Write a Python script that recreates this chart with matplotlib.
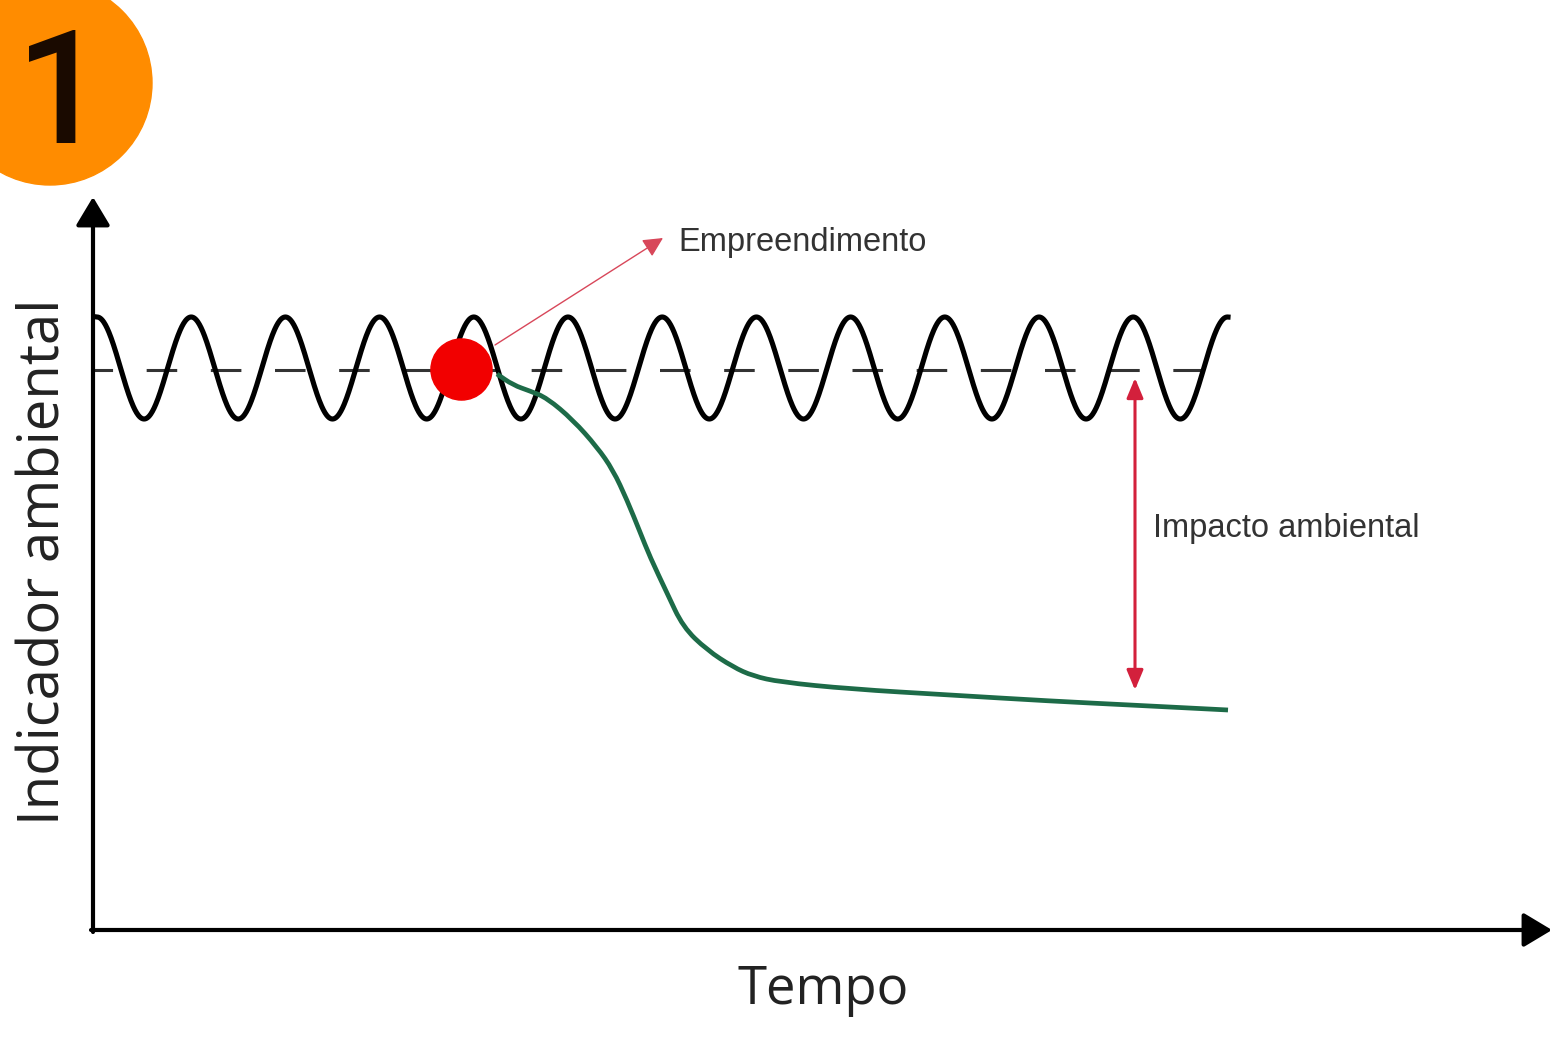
import numpy as np
import matplotlib.pyplot as plt
from matplotlib.patches import Circle, PathPatch
from matplotlib.path import Path

plt.rcParams['font.family'] = ['Open Sans', 'DejaVu Sans']

# eixos: tempo (t) e indicador (v), origem no canto dos eixos
x_axis_end = 1459
y_axis_end = 733

# oscilação natural do indicador (linha de base)
baseline = 560
wave_center = 562
wave_amplitude = 51
wave_start = 4
wave_end = 1135
wave_period = 94.2

# trajetória após o empreendimento
impact_t = [404, 420, 437, 454, 480, 504, 520, 534, 547, 557, 574, 590, 614,
            640, 660, 687, 757, 857, 957, 1037, 1135]
impact_v = [556, 545, 539, 532, 510, 483, 460, 430, 398, 373, 337, 303, 280,
            263, 254, 248, 241, 235, 229, 225, 220]

# empreendimento
project_t, project_v = 368, 561
project_label = 'Empreendimento'
project_label_pos = (585, 687)
project_arrow = ((402, 585), (570, 692))

# impacto ambiental
impact_x = 1042
impact_top, impact_bottom = 552, 240
impact_label = 'Impacto ambiental'
impact_label_pos = (1060, 402)

xlabel = 'Tempo'
ylabel = 'Indicador ambiental'
badge = '1'

fig = plt.figure(figsize=(15.54, 10.45), dpi=100)
ax = fig.add_axes([0, 0, 1, 1])
ax.set_xlim(-93, 1461)
ax.set_ylim(-115, 930)
ax.set_aspect('equal')
ax.axis('off')

# eixos com setas
arrow_kw = dict(arrowstyle='-|>,head_length=0.5,head_width=0.3', lw=3,
                color='black', shrinkA=0, shrinkB=0, mutation_scale=35)
ax.annotate('', xy=(x_axis_end, 0), xytext=(-2, 0), arrowprops=arrow_kw)
ax.annotate('', xy=(0, y_axis_end), xytext=(0, -2), arrowprops=arrow_kw)

# linha de base tracejada
ax.plot([0, wave_end], [baseline, baseline], color='#333333', lw=2.2,
        linestyle=(3.6, (10, 11)), zorder=2)

# oscilação
t = np.linspace(wave_start, wave_end, 2000)
v = wave_center + wave_amplitude * np.cos(2 * np.pi * (t - wave_start) / wave_period)
ax.plot(t, v, color='black', lw=3.7, zorder=3)

# curva de impacto (suavizada com curvas quadráticas entre pontos médios)
pts = np.column_stack([impact_t, impact_v]).astype(float)
mids = (pts[:-1] + pts[1:]) / 2
verts = [pts[0], mids[0]]
codes = [Path.MOVETO, Path.LINETO]
for i in range(1, len(pts) - 1):
    verts += [pts[i], mids[i]]
    codes += [Path.CURVE3, Path.CURVE3]
verts.append(pts[-1])
codes.append(Path.LINETO)
ax.add_patch(PathPatch(Path(verts, codes), facecolor='none', edgecolor='#1d6b48',
                       lw=3.4, zorder=4, capstyle='butt'))

# seta do empreendimento
ax.annotate('', xy=project_arrow[1], xytext=project_arrow[0],
            arrowprops=dict(arrowstyle='-|>,head_length=0.6,head_width=0.3',
                            lw=1, color='#d8475a', shrinkA=0, shrinkB=0,
                            mutation_scale=20), zorder=4)
ax.plot(project_t, project_v, 'o', ms=44, color='#f20000', zorder=5)
ax.text(*project_label_pos, project_label, fontsize=23.5, color='#333333',
        fontfamily='Liberation Sans', ha='left', va='center')

# seta dupla do impacto
ax.annotate('', xy=(impact_x, impact_bottom), xytext=(impact_x, impact_top),
            arrowprops=dict(arrowstyle='<|-|>,head_length=0.6,head_width=0.25',
                            lw=2.2, color='#d3203c', shrinkA=0, shrinkB=0,
                            mutation_scale=20), zorder=4)
ax.text(*impact_label_pos, impact_label, fontsize=23.5, color='#333333',
        fontfamily='Liberation Sans', ha='left', va='center')

# rótulos dos eixos
ax.text(730, -60, xlabel, fontsize=38, color='#222222', ha='center', va='center')
ax.text(-48, 368, ylabel, fontsize=40.5, color='#222222', ha='center', va='center',
        rotation=90)

# selo numerado
ax.add_patch(Circle((-43, 847), 102, color='#ff8c00', zorder=6))
ax.text(-32, 787, badge, fontsize=114, fontweight='medium', color='#1a0a00',
        fontfamily='Roboto', ha='center', va='baseline', zorder=7)

fig.savefig('out.png', dpi=100)
